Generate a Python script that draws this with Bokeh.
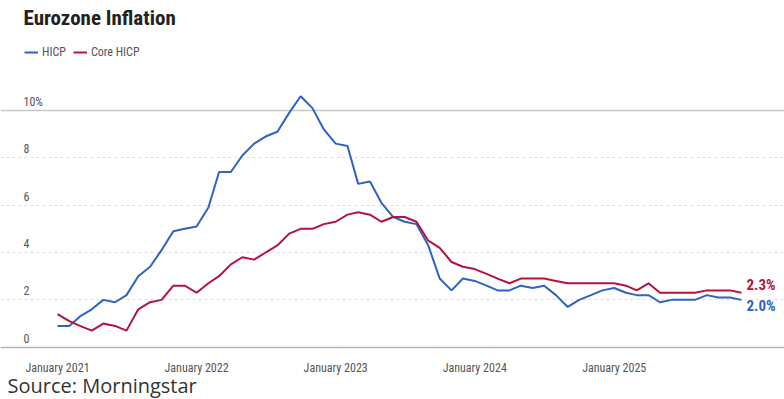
from datetime import datetime
import pandas as pd
from bokeh.plotting import figure
from bokeh.models import Range1d, FixedTicker, Grid, Label, Legend, LegendItem, ColumnDataSource
from bokeh.embed import file_html
from bokeh.resources import INLINE

# ---------------- data ----------------
months = pd.date_range("2021-01-01", "2025-12-01", freq="MS")
hicp = [0.9, 0.9, 1.3, 1.6, 2.0, 1.9, 2.2, 3.0, 3.4, 4.1, 4.9, 5.0,
        5.1, 5.9, 7.4, 7.4, 8.1, 8.6, 8.9, 9.1, 9.9, 10.6, 10.1, 9.2,
        8.6, 8.5, 6.9, 7.0, 6.1, 5.5, 5.3, 5.2, 4.3, 2.9, 2.4, 2.9,
        2.8, 2.6, 2.4, 2.4, 2.6, 2.5, 2.6, 2.2, 1.7, 2.0, 2.2, 2.4,
        2.5, 2.3, 2.2, 2.2, 1.9, 2.0, 2.0, 2.0, 2.2, 2.1, 2.1, 2.0]
core = [1.4, 1.1, 0.9, 0.7, 1.0, 0.9, 0.7, 1.6, 1.9, 2.0, 2.6, 2.6,
        2.3, 2.7, 3.0, 3.5, 3.8, 3.7, 4.0, 4.3, 4.8, 5.0, 5.0, 5.2,
        5.3, 5.6, 5.7, 5.6, 5.3, 5.5, 5.5, 5.3, 4.5, 4.2, 3.6, 3.4,
        3.3, 3.1, 2.9, 2.7, 2.9, 2.9, 2.9, 2.8, 2.7, 2.7, 2.7, 2.7,
        2.7, 2.6, 2.4, 2.7, 2.3, 2.3, 2.3, 2.3, 2.4, 2.4, 2.4, 2.3]
year_ticks = [datetime(2021, 1, 1), datetime(2022, 1, 1), datetime(2023, 1, 1),
              datetime(2024, 1, 1), datetime(2025, 1, 1)]
year_labels = ["January 2021", "January 2022", "January 2023", "January 2024", "January 2025"]
y_ticks = [0, 2, 4, 6, 8, 10]
y_tick_labels = ["0", "2", "4", "6", "8", "10%"]
series_names = ["HICP", "Core HICP"]

BLUE = "#2d63c1"
RED = "#b5123e"
COND = "'Liberation Sans Narrow', 'Roboto Condensed', 'DejaVu Sans Condensed', Roboto, sans-serif"

W, H = 784, 399
# layout (pixels): first month at x=57, last month at x=741, zero line at y=346.7
X0_PX, X1_PX = 57, 741
Y0_PX, PX_PER_UNIT = 346.7, 23.67
days_span = (months[-1] - months[0]).days
ppd = (X1_PX - X0_PX) / days_span
x_start = months[0] - pd.Timedelta(days=X0_PX / ppd)
x_end = months[-1] + pd.Timedelta(days=(W - X1_PX) / ppd)
y_end = Y0_PX / PX_PER_UNIT
y_start = -(H - Y0_PX) / PX_PER_UNIT

def ydata(py):
    return (Y0_PX - py) / PX_PER_UNIT

grid_lo = (months[0] - pd.Timedelta(days=(X0_PX - 23) / ppd)).timestamp() * 1000
grid_hi = (months[-1] + pd.Timedelta(days=(751 - X1_PX) / ppd)).timestamp() * 1000

src = ColumnDataSource(dict(x=months, hicp=hicp, core=core))

p = figure(width=W, height=H, output_backend="svg", toolbar_location=None,
           x_axis_type=None, y_axis_type=None,
           x_range=Range1d(x_start, x_end), y_range=Range1d(y_start, y_end),
           min_border=0)
p.outline_line_color = None
p.background_fill_color = "white"
p.border_fill_color = "white"
p.xgrid.visible = False
p.ygrid.visible = False

# gridlines
p.add_layout(Grid(dimension=1, ticker=FixedTicker(ticks=y_ticks[1:-1]), bounds=(grid_lo, grid_hi),
                  grid_line_color="#dddddd", grid_line_dash="3 3", grid_line_width=1))
p.add_layout(Grid(dimension=1, ticker=FixedTicker(ticks=[y_ticks[-1]]), bounds=(grid_lo, grid_hi),
                  grid_line_color="#c8c8c8", grid_line_width=1.5))
p.add_layout(Grid(dimension=1, ticker=FixedTicker(ticks=[y_ticks[0]]), bounds=(grid_lo, grid_hi),
                  grid_line_color="#b4b4b4", grid_line_width=1.5))

r1 = p.line("x", "hicp", source=src, line_color=BLUE, line_width=2)
r2 = p.line("x", "core", source=src, line_color=RED, line_width=2)

# y tick labels above gridlines, left aligned
for v, t in zip(y_ticks, y_tick_labels):
    p.add_layout(Label(x=23, x_units="screen", y=v + 9 / PX_PER_UNIT, text=t,
                       text_baseline="middle", text_align="left",
                       text_font=COND, text_font_size="12px", text_color="#555555"))

# x tick labels
for d, t in zip(year_ticks, year_labels):
    p.add_layout(Label(x=d, y=ydata(367), text=t, text_baseline="middle", text_align="center",
                       text_font=COND, text_font_size="12px", text_color="#555555"))

# legend
legend = Legend(items=[LegendItem(label=series_names[0], renderers=[r1]),
                       LegendItem(label=series_names[1], renderers=[r2])],
                location=(24, H - 52 - 8), orientation="horizontal",
                margin=0, padding=0, spacing=7, glyph_width=14, glyph_height=16,
                label_height=16, label_standoff=4,
                label_text_font=COND, label_text_font_size="12px", label_text_color="#555555",
                border_line_color=None, background_fill_alpha=0)
p.add_layout(legend)

# title
p.add_layout(Label(x=23, x_units="screen", y=ydata(17), text="Eurozone Inflation",
                   text_baseline="middle", text_align="left", text_font=COND,
                   text_font_style="bold", text_font_size="21px", text_color="#222222"))

# source
p.add_layout(Label(x=7, x_units="screen", y=ydata(385), text="Source: Morningstar",
                   text_baseline="middle", text_align="left", text_font="Open Sans",
                   text_font_size="20px", text_color="#333333"))

# end labels
p.add_layout(Label(x=months[-1], x_offset=5, y=core[-1] + 8 / PX_PER_UNIT,
                   text=f"{core[-1]:.1f}%", text_baseline="middle", text_align="left",
                   text_font=COND, text_font_style="bold", text_font_size="15px", text_color=RED))
p.add_layout(Label(x=months[-1], x_offset=5, y=hicp[-1] - 6 / PX_PER_UNIT,
                   text=f"{hicp[-1]:.1f}%", text_baseline="middle", text_align="left",
                   text_font=COND, text_font_style="bold", text_font_size="15px", text_color=BLUE))

open("out.html", "w").write(file_html(p, INLINE))
